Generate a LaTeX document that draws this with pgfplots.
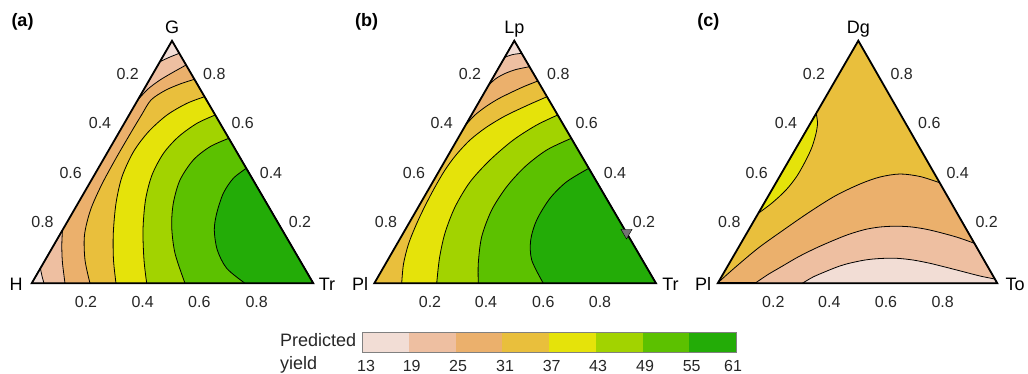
\documentclass[border=0pt]{standalone}
\usepackage{fontspec}
\setmainfont{Liberation Sans}
\usepackage{pgfplots}
\pgfplotsset{compat=1.18}
\definecolor{c1}{HTML}{F2DDD5}
\definecolor{c2}{HTML}{EEBFA1}
\definecolor{c3}{HTML}{EBB06C}
\definecolor{c4}{HTML}{E9BF3C}
\definecolor{c5}{HTML}{E5E30A}
\definecolor{c6}{HTML}{A2D300}
\definecolor{c7}{HTML}{5CC100}
\definecolor{c8}{HTML}{23AC07}
\tikzset{
  cline/.style={draw=black, line width=0.8pt, smooth, line join=round},
  tri/.style={draw=black, line width=1.8pt, line join=miter},
  tick/.style={font=\fontsize{16}{18}\selectfont, text=black!85},
  vlab/.style={font=\fontsize{18}{20}\selectfont, anchor=base},
  plab/.style={font=\bfseries\fontsize{18}{20}\selectfont, anchor=base},
}
\begin{document}
\begin{tikzpicture}
\useasboundingbox (0,0) rectangle (1028pt,-373pt);
\begin{axis}[x=1pt, y=1pt, y dir=reverse, xmin=0, xmax=1028, ymin=0, ymax=373,
  hide axis, scale only axis, clip=false, anchor=origin, at={(0,0)}]

%% ---------------- panel (a) ----------------
\addplot[fill=c3, draw=none] coordinates {(31.7,283.3) (313.3,283.3) (172,40.8)} -- cycle;
\addplot[cline, fill=c2] coordinates {(137.75,100) (148,89) (160,80) (173,72.3) (186.1,65)} -- (axis cs:172,40.8) -- cycle;
\addplot[cline, fill=c2] coordinates {(62.5,230) (61.8,245) (62.4,262) (65,283.3)} -- (axis cs:31.7,283.3) -- cycle;
\addplot[cline, fill=c1] coordinates {(159.9,61.7) (169.5,57.2) (179.3,53.3)} -- (axis cs:172,40.8) -- cycle;
\addplot[cline, fill=c1] coordinates {(40.4,268.3) (42,276) (44,283.3)} -- (axis cs:31.7,283.3) -- cycle;
\addplot[cline, fill=c4] coordinates {(194.4,79.3) (180,84) (165,90.5) (151,100) (141.5,115) (129.5,135) (115,160) (101.5,185) (90.5,210) (84.5,235) (85,260) (90,283.3)} -- (axis cs:313.3,283.3) -- cycle;
\addplot[cline, fill=c5] coordinates {(204.6,96.7) (187,103.3) (167,115) (148.5,131.7) (133.5,151.7) (122,176.7) (116,203.3) (113.3,233.3) (113.5,260) (116,283.3)} -- (axis cs:313.3,283.3) -- cycle;
\addplot[cline, fill=c6] coordinates {(215.2,115) (197,123.3) (178.5,136.7) (163.5,153.3) (152,175) (145.5,200) (143,230) (144,260) (146.7,283.3)} -- (axis cs:313.3,283.3) -- cycle;
\addplot[cline, fill=c7] coordinates {(228.8,138.3) (210,146.7) (193.3,160) (180,180) (173.3,203.3) (171.7,226.7) (175,253.3) (185,283.3)} -- (axis cs:313.3,283.3) -- cycle;
\addplot[cline, fill=c8] coordinates {(246.3,168.3) (233.3,178.3) (223.3,193.3) (216.7,213.3) (214.3,230) (217.3,250) (226.7,268.3) (245,283.3)} -- (axis cs:313.3,283.3) -- cycle;
\addplot[tri] coordinates {(31.7,283.3) (313.3,283.3) (172,40.8)} -- cycle;

%% ---------------- panel (b) ----------------
\addplot[fill=c4, draw=none] coordinates {(374.3,283.3) (656,283.3) (514.3,40.7)} -- cycle;
\addplot[cline, fill=c3] coordinates {(465.65,125) (475,115) (486,106.5) (498,99) (511,92.5) (524,86.5) (537.8,81)} -- (axis cs:514.3,40.7) -- cycle;
\addplot[cline, fill=c2] coordinates {(488.7,85) (496,78.5) (505,73.5) (516,69.5) (529.5,66.7)} -- (axis cs:514.3,40.7) -- cycle;
\addplot[cline, fill=c1] coordinates {(504.7,57.3) (512.5,54.6) (521.7,53.3)} -- (axis cs:514.3,40.7) -- cycle;
\addplot[cline, fill=c5] coordinates {(547,96.7) (527,105.5) (505,116) (486,127.5) (470,140) (456,155) (445,170) (435,187) (425.5,205) (416.5,224) (408.5,244) (403.5,264) (401.7,283.3)} -- (axis cs:656,283.3) -- cycle;
\addplot[cline, fill=c6] coordinates {(557.7,115) (536.7,125) (513.3,140) (490,160) (470,182) (455,207) (445,233) (439.5,258) (436.7,283.3)} -- (axis cs:656,283.3) -- cycle;
\addplot[cline, fill=c7] coordinates {(571.3,138.3) (546.7,150) (525,166.7) (506.7,186.7) (491.7,210) (481.7,236.7) (478.3,263.3) (478.3,283.3)} -- (axis cs:656,283.3) -- cycle;
\addplot[cline, fill=c8] coordinates {(588.8,168.3) (566.7,181.7) (550,198.3) (536.7,220) (530.7,240) (531.7,260) (543.3,283.3)} -- (axis cs:656,283.3) -- cycle;
\addplot[tri] coordinates {(374.3,283.3) (656,283.3) (514.3,40.7)} -- cycle;
\addplot[only marks, mark=triangle*, mark size=6.5pt, mark options={rotate=180, fill=black!55, draw=none}] coordinates {(626.5,232.5)};

%% ---------------- panel (c) ----------------
\addplot[fill=c4, draw=none] coordinates {(717.7,283.3) (997.3,283.3) (858.3,40.7)} -- cycle;
\addplot[cline, fill=c5] coordinates {(816.2,113.3) (817.5,123) (816,133.5) (812,147) (806,160) (797,176) (786,190) (772,203) (758.3,213.3)} -- cycle;
\addplot[cline, fill=c3] coordinates {(718.2,282.5) (735,267.5) (758.3,248) (782,231) (808,213) (835,196) (860,184) (880,177) (900,174) (920,176.5) (939.7,182.7)} -- (axis cs:997.3,283.3) -- cycle;
\addplot[cline, fill=c2] coordinates {(755,283.3) (768,274.5) (781.7,266.5) (798,257) (815,248.5) (832,241) (848.3,234.5) (865,229.5) (880,227) (895,226.2) (910,226.8) (925,229) (940,232.5) (958,237.5) (974.4,243.3)} -- (axis cs:997.3,283.3) -- cycle;
\addplot[cline, fill=c1] coordinates {(802.3,283.3) (813,277) (825,271.8) (837,267) (848.3,263.5) (865,260) (880,258.5) (896.7,258.3) (913,260) (930,263.3) (947,267.5) (963.3,271.7) (980,276) (994.8,279)} -- (axis cs:997.3,283.3) -- cycle;
\addplot[tri] coordinates {(717.7,283.3) (997.3,283.3) (858.3,40.7)} -- cycle;

%% ---------------- colour bar ----------------
\addplot[fill=c1, draw=none] coordinates {(362,332.3) (408.75,332.3) (408.75,352.7) (362,352.7)} -- cycle;
\addplot[fill=c2, draw=none] coordinates {(408.75,332.3) (455.5,332.3) (455.5,352.7) (408.75,352.7)} -- cycle;
\addplot[fill=c3, draw=none] coordinates {(455.5,332.3) (502.25,332.3) (502.25,352.7) (455.5,352.7)} -- cycle;
\addplot[fill=c4, draw=none] coordinates {(502.25,332.3) (549,332.3) (549,352.7) (502.25,352.7)} -- cycle;
\addplot[fill=c5, draw=none] coordinates {(549,332.3) (595.75,332.3) (595.75,352.7) (549,352.7)} -- cycle;
\addplot[fill=c6, draw=none] coordinates {(595.75,332.3) (642.5,332.3) (642.5,352.7) (595.75,352.7)} -- cycle;
\addplot[fill=c7, draw=none] coordinates {(642.5,332.3) (689.25,332.3) (689.25,352.7) (642.5,352.7)} -- cycle;
\addplot[fill=c8, draw=none] coordinates {(689.25,332.3) (736,332.3) (736,352.7) (689.25,352.7)} -- cycle;
\addplot[draw=black!50, line width=0.9pt] coordinates {(362,332.3) (736,332.3) (736,352.7) (362,352.7)} -- cycle;

%% ---------------- texts ----------------
\node[plab] at (axis cs:22.5,26.8) {(a)};
\node[plab] at (axis cs:366.7,26.8) {(b)};
\node[plab] at (axis cs:708.3,26.8) {(c)};

\node[vlab] at (axis cs:172,33.3) {G};
\node[vlab] at (axis cs:16,290) {H};
\node[vlab] at (axis cs:327,290) {Tr};
\node[vlab] at (axis cs:514.3,33.3) {Lp};
\node[vlab] at (axis cs:360,290) {Pl};
\node[vlab] at (axis cs:670.5,290) {Tr};
\node[vlab] at (axis cs:858.3,33.3) {Dg};
\node[vlab] at (axis cs:703,290) {Pl};
\node[vlab] at (axis cs:1015,290) {To};

% panel (a) ticks
\node[tick] at (axis cs:127.7,74) {0.2};
\node[tick] at (axis cs:100,123.3) {0.4};
\node[tick] at (axis cs:70.7,172.7) {0.6};
\node[tick] at (axis cs:42.5,221.7) {0.8};
\node[tick] at (axis cs:214.3,74) {0.8};
\node[tick] at (axis cs:242.7,123.3) {0.6};
\node[tick] at (axis cs:271,172.7) {0.4};
\node[tick] at (axis cs:300,221.7) {0.2};
\node[tick] at (axis cs:86,301.7) {0.2};
\node[tick] at (axis cs:142.7,301.7) {0.4};
\node[tick] at (axis cs:199.3,301.7) {0.6};
\node[tick] at (axis cs:256.7,301.7) {0.8};
% panel (b) ticks
\node[tick] at (axis cs:470,74) {0.2};
\node[tick] at (axis cs:441.7,123.3) {0.4};
\node[tick] at (axis cs:414,172.7) {0.6};
\node[tick] at (axis cs:386,221.7) {0.8};
\node[tick] at (axis cs:558.3,74) {0.8};
\node[tick] at (axis cs:586.7,123.3) {0.6};
\node[tick] at (axis cs:615,172.7) {0.4};
\node[tick] at (axis cs:644,221.7) {0.2};
\node[tick] at (axis cs:430,301.7) {0.2};
\node[tick] at (axis cs:486,301.7) {0.4};
\node[tick] at (axis cs:543.3,301.7) {0.6};
\node[tick] at (axis cs:600,301.7) {0.8};
% panel (c) ticks
\node[tick] at (axis cs:814,74) {0.2};
\node[tick] at (axis cs:786,123.3) {0.4};
\node[tick] at (axis cs:756.7,172.7) {0.6};
\node[tick] at (axis cs:729.3,221.7) {0.8};
\node[tick] at (axis cs:901.7,74) {0.8};
\node[tick] at (axis cs:929.3,123.3) {0.6};
\node[tick] at (axis cs:957.7,172.7) {0.4};
\node[tick] at (axis cs:986.7,221.7) {0.2};
\node[tick] at (axis cs:773.3,301.7) {0.2};
\node[tick] at (axis cs:829.3,301.7) {0.4};
\node[tick] at (axis cs:886,301.7) {0.6};
\node[tick] at (axis cs:942.7,301.7) {0.8};

% colour bar texts
\node[font=\fontsize{18}{20}\selectfont, anchor=base west, text=black!85] at (axis cs:276.5,346.7) {Predicted};
\node[font=\fontsize{18}{20}\selectfont, anchor=base west, text=black!85] at (axis cs:276.5,369.3) {yield};
\node[tick] at (axis cs:366,365.8) {13};
\node[tick] at (axis cs:411.7,365.8) {19};
\node[tick] at (axis cs:458,365.8) {25};
\node[tick] at (axis cs:505,365.8) {31};
\node[tick] at (axis cs:551.7,365.8) {37};
\node[tick] at (axis cs:598,365.8) {43};
\node[tick] at (axis cs:645,365.8) {49};
\node[tick] at (axis cs:691.7,365.8) {55};
\node[tick] at (axis cs:733,365.8) {61};
\end{axis}
\end{tikzpicture}
\end{document}
